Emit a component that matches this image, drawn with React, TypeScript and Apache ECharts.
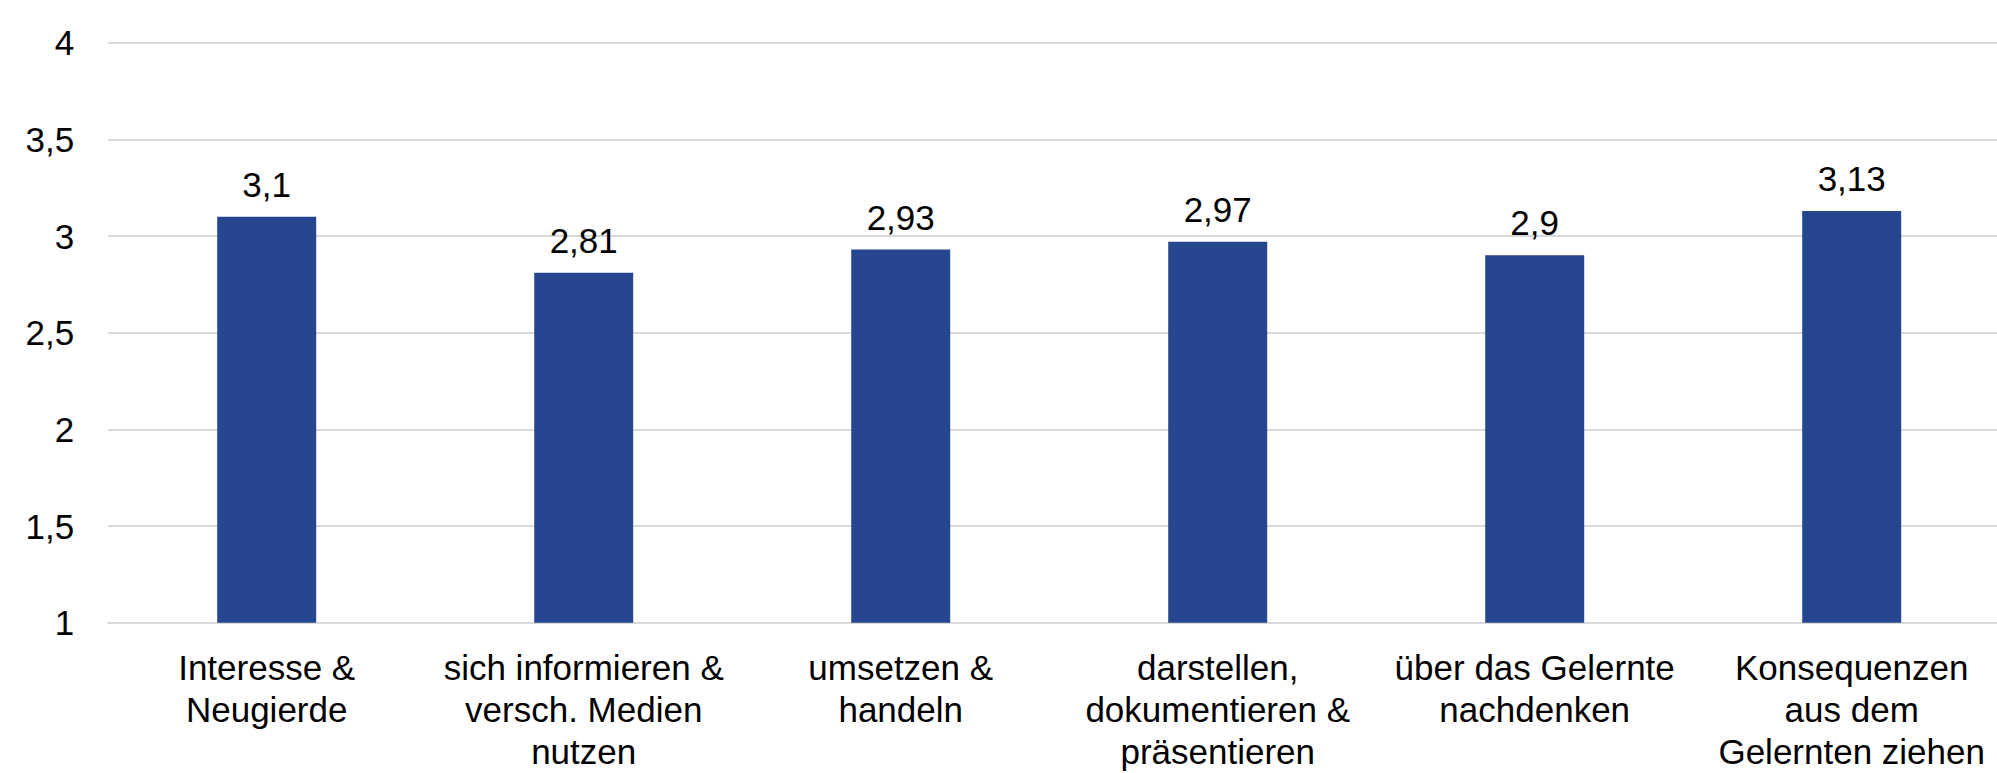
import React, { useEffect, useRef } from "react";
import * as echarts from "echarts";

const categories = [
  "Interesse &\nNeugierde",
  "sich informieren &\nversch. Medien\nnutzen",
  "umsetzen &\nhandeln",
  "darstellen,\ndokumentieren &\npräsentieren",
  "über das Gelernte\nnachdenken",
  "Konsequenzen\naus dem\nGelernten ziehen",
];
const values = [3.1, 2.81, 2.93, 2.97, 2.9, 3.13];
const yMin = 1;
const yMax = 4;
const yInterval = 0.5;

const FONT = "'Liberation Sans', Arial, sans-serif";
const fmt = (v: number) => String(v).replace(".", ",");

export default function App() {
  const ref = useRef<HTMLDivElement>(null);
  useEffect(() => {
    if (!ref.current) return;
    const chart = echarts.init(ref.current, null, { renderer: "svg" });
    chart.setOption({
      animation: false,
      backgroundColor: "#ffffff",
      grid: {
        left: 108.2,
        width: 1902,
        top: 42.7,
        bottom: 150.3,
        containLabel: false,
        outerBoundsMode: "none",
      },
      xAxis: {
        type: "category",
        data: categories,
        axisLine: { show: true, lineStyle: { color: "#d9d9d9", width: 2 } },
        axisTick: { show: false },
        axisLabel: {
          interval: 0,
          margin: 24,
          color: "#000000",
          fontFamily: FONT,
          fontSize: 35,
          lineHeight: 42,
        },
      },
      yAxis: {
        type: "value",
        min: yMin,
        max: yMax,
        interval: yInterval,
        axisLine: { show: false },
        axisTick: { show: false },
        splitLine: { lineStyle: { color: "#d9d9d9", width: 2 } },
        axisLabel: {
          margin: 34,
          color: "#000000",
          fontFamily: FONT,
          fontSize: 35,
          formatter: (v: number) => fmt(v),
        },
      },
      series: [
        {
          type: "bar",
          data: values,
          barWidth: 99,
          itemStyle: { color: "#26478f" },
          label: {
            show: true,
            position: "top",
            distance: 15,
            color: "#000000",
            fontFamily: FONT,
            fontSize: 35,
            lineHeight: 35,
            formatter: (p: any) => fmt(p.value),
          },
        },
      ],
    });
    return () => chart.dispose();
  }, []);
  return (
    <div
      ref={ref}
      style={{ position: "fixed", left: 0, top: 0, width: 1997, height: 773, background: "#fff" }}
    />
  );
}
